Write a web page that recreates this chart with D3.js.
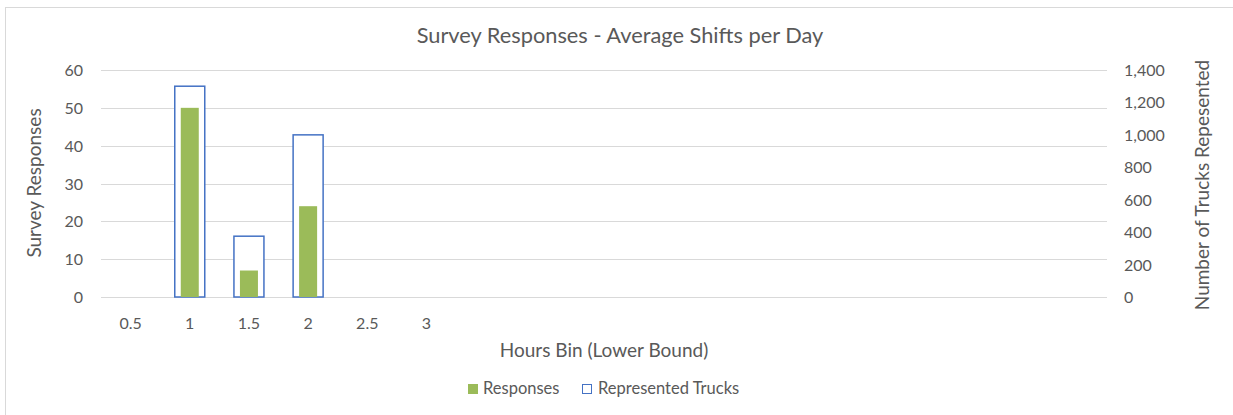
<!DOCTYPE html>
<html>
<head>
<meta charset="utf-8">
<script src="https://cdn.jsdelivr.net/npm/d3@7"></script>
<style>
  body { margin: 0; background: #fff; }
  text { font-family: Lato, "Open Sans", sans-serif; fill: #595959; }
</style>
</head>
<body>
<div id="chart"></div>
<script>
// categories (17 bins, only first six labelled)
var binLabels = ["0.5", "1", "1.5", "2", "2.5", "3", "", "", "", "", "", "", "", "", "", "", ""];
var responses = [0, 50, 7, 24, 0, 0, 0, 0, 0, 0, 0, 0, 0, 0, 0, 0, 0];
var trucks = [0, 1300, 375, 1000, 0, 0, 0, 0, 0, 0, 0, 0, 0, 0, 0, 0, 0];
var leftTicks = [0, 10, 20, 30, 40, 50, 60];
var rightTicks = [0, 200, 400, 600, 800, 1000, 1200, 1400];

var width = 1233, height = 415;
var plotLeft = 101, plotRight = 1107, plotTop = 70, plotBottom = 297;

var svg = d3.select("#chart")
  .append("svg")
    .attr("width", width)
    .attr("height", height);

// chart border
svg.append("rect")
    .attr("x", 5.5)
    .attr("y", 7.5)
    .attr("width", width)
    .attr("height", height)
    .style("fill", "none")
    .style("stroke", "#d9d9d9");

var x = d3.scaleBand()
    .domain(d3.range(binLabels.length))
    .range([plotLeft, plotRight]);
var yL = d3.scaleLinear().domain([0, 60]).range([plotBottom, plotTop]);
var yR = d3.scaleLinear().domain([0, 1400]).range([plotBottom, plotTop]);

//gridlines
svg.selectAll(".grid")
    .data(leftTicks)
  .enter().append("line")
    .attr("x1", plotLeft)
    .attr("x2", plotRight)
    .attr("y1", function(d) { return Math.round(yL(d)) + 0.5; })
    .attr("y2", function(d) { return Math.round(yL(d)) + 0.5; })
    .style("stroke", "#d9d9d9")
    .style("stroke-width", "1px");

//outlined trucks bars
var tw = 30;
svg.selectAll(".truck")
    .data(trucks)
  .enter().append("rect")
    .attr("x", function(d, i) { return x(i) + x.bandwidth() / 2 - tw / 2; })
    .attr("y", function(d) { return yR(d); })
    .attr("width", tw)
    .attr("height", function(d) { return yR(0) - yR(d); })
    .style("display", function(d) { return d > 0 ? null : "none"; })
    .style("fill", "#fff")
    .style("stroke", "#4472c4")
    .style("stroke-width", "1.5px");

//responses bars
var rw = 18;
svg.selectAll(".resp")
    .data(responses)
  .enter().append("rect")
    .attr("x", function(d, i) { return x(i) + x.bandwidth() / 2 - rw / 2; })
    .attr("y", function(d) { return yL(d); })
    .attr("width", rw)
    .attr("height", function(d) { return yL(0) - yL(d); })
    .style("fill", "#9bbb59");

//left axis labels
svg.selectAll(".ly")
    .data(leftTicks)
  .enter().append("text")
    .attr("x", 83)
    .attr("y", function(d) { return yL(d) + 6; })
    .attr("text-anchor", "end")
    .style("font-size", "16px")
    .text(function(d) { return d; });

//right axis labels
svg.selectAll(".ry")
    .data(rightTicks)
  .enter().append("text")
    .attr("x", 1124)
    .attr("y", function(d) { return yR(d) + 6; })
    .style("font-size", "16px")
    .text(d3.format(","));

//x labels
svg.selectAll(".xl")
    .data(binLabels)
  .enter().append("text")
    .attr("x", function(d, i) { return x(i) + x.bandwidth() / 2; })
    .attr("y", 329)
    .attr("text-anchor", "middle")
    .style("font-size", "16px")
    .text(function(d) { return d; });

//titles
svg.append("text")
    .attr("x", 620)
    .attr("y", 43)
    .attr("text-anchor", "middle")
    .style("font-size", "21.8px")
    .text("Survey Responses - Average Shifts per Day");

svg.append("text")
    .attr("x", 604)
    .attr("y", 357)
    .attr("text-anchor", "middle")
    .style("font-size", "19px")
    .text("Hours Bin (Lower Bound)");

svg.append("text")
    .attr("transform", "translate(41,183) rotate(-90)")
    .attr("text-anchor", "middle")
    .style("font-size", "19px")
    .text("Survey Responses");

svg.append("text")
    .attr("transform", "translate(1209,185) rotate(-90)")
    .attr("text-anchor", "middle")
    .style("font-size", "19px")
    .text("Number of Trucks Repesented");

//legend
var legend = svg.append("g");
legend.append("rect")
    .attr("x", 468).attr("y", 384)
    .attr("width", 10).attr("height", 10)
    .style("fill", "#9bbb59");
legend.append("text")
    .attr("x", 483).attr("y", 394)
    .style("font-size", "16.5px")
    .text("Responses");
legend.append("rect")
    .attr("x", 582.5).attr("y", 384.5)
    .attr("width", 9).attr("height", 9)
    .style("fill", "#fff")
    .style("stroke", "#4472c4");
legend.append("text")
    .attr("x", 598).attr("y", 394)
    .style("font-size", "16.5px")
    .text("Represented Trucks");
</script>
</body>
</html>
